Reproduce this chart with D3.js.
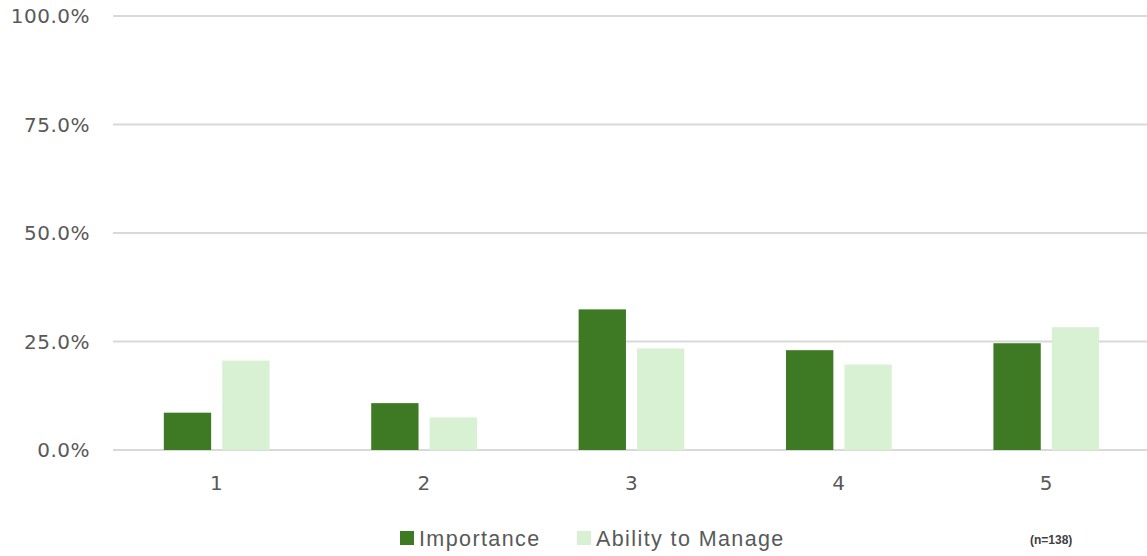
<!DOCTYPE html>
<html>
<head>
<meta charset="utf-8">
<script src="https://cdn.jsdelivr.net/npm/d3@7"></script>
<style>
  body { margin: 0; background: #fff; }
  svg { display: block; }
  .tick-label { font-family: "DejaVu Sans", Verdana, sans-serif; font-size: 20px; fill: #595959; letter-spacing: 0.5px; }
  .legend-label { font-family: "Liberation Sans", Arial, sans-serif; font-size: 21.5px; fill: #595959; letter-spacing: 1.4px; }
  .note { font-family: "Liberation Sans", Arial, sans-serif; font-size: 12px; font-weight: bold; fill: #404040; }
</style>
</head>
<body>
<div id="chart"></div>
<script>
// ratings 1-5, share of respondents
var categories = ['1', '2', '3', '4', '5'];
var seriesNames = ['Importance', 'Ability to Manage'];
var importance = [8.6, 10.8, 32.4, 23.0, 24.6];
var ability = [20.6, 7.5, 23.4, 19.7, 28.3];
var yTicks = [0, 25, 50, 75, 100];
var colors = ['#3e7a24', '#d8f1d2'];

var width = 1147, height = 556;
var margin = {top: 16, right: -3, bottom: 106, left: 113};

var svg = d3.select('#chart').append('svg')
  .attr('width', width)
  .attr('height', height);

var x = d3.scaleBand()
  .domain(categories)
  .range([margin.left, width - margin.right])
  .paddingInner(0.49)
  .paddingOuter(0.245);

var xSub = d3.scaleBand()
  .domain(seriesNames)
  .range([0, x.bandwidth()])
  .paddingInner(0.19);

var y = d3.scaleLinear()
  .domain([0, 100])
  .range([height - margin.bottom, margin.top]);

//gridlines
svg.append('g')
  .selectAll('line')
  .data(yTicks)
  .join('line')
  .attr('x1', margin.left)
  .attr('x2', width)
  .attr('y1', d => y(d))
  .attr('y2', d => y(d))
  .attr('stroke', '#d9d9d9')
  .attr('stroke-width', 2);

//y labels
svg.append('g')
  .selectAll('text')
  .data(yTicks)
  .join('text')
  .attr('class', 'tick-label')
  .attr('x', 90)
  .attr('y', d => y(d))
  .attr('dy', '0.35em')
  .attr('text-anchor', 'end')
  .text(d => d3.format('.1f')(d) + '%');

//bars
var rows = categories.map((c, i) => ({cat: c, values: [importance[i], ability[i]]}));

var groups = svg.append('g')
  .selectAll('g')
  .data(rows)
  .join('g')
  .attr('transform', d => 'translate(' + x(d.cat) + ',0)');

groups.selectAll('rect')
  .data(d => d.values.map((v, j) => ({name: seriesNames[j], value: v, color: colors[j]})))
  .join('rect')
  .attr('x', d => xSub(d.name))
  .attr('width', xSub.bandwidth())
  .attr('y', d => y(d.value))
  .attr('height', d => y(0) - y(d.value))
  .attr('fill', d => d.color);

//x labels
svg.append('g')
  .selectAll('text')
  .data(categories)
  .join('text')
  .attr('class', 'tick-label')
  .attr('x', d => x(d) + x.bandwidth() / 2)
  .attr('y', 490)
  .attr('text-anchor', 'middle')
  .text(d => d);

//legend
var legendPos = [400, 577];
var legend = svg.append('g')
  .selectAll('g')
  .data(seriesNames)
  .join('g')
  .attr('transform', (d, i) => 'translate(' + legendPos[i] + ',531)');

legend.append('rect')
  .attr('width', 14)
  .attr('height', 14)
  .attr('fill', (d, i) => colors[i]);

legend.append('text')
  .attr('class', 'legend-label')
  .attr('x', 19)
  .attr('y', 14.5)
  .text(d => d);

svg.append('text')
  .attr('class', 'note')
  .attr('x', 1030)
  .attr('y', 544)
  .text('(n=138)');
</script>
</body>
</html>
